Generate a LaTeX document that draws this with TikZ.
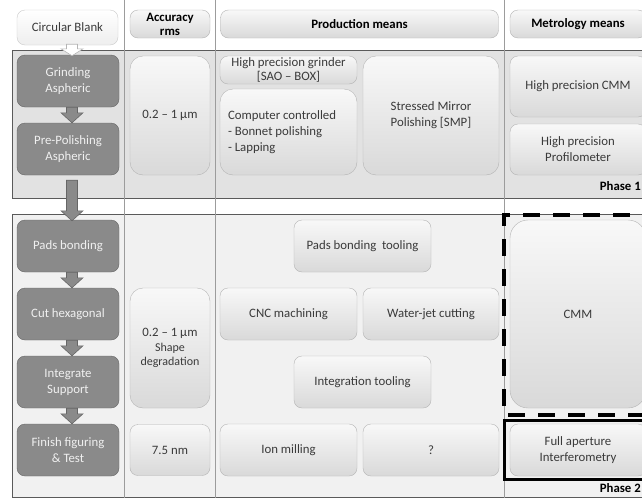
\documentclass[tikz,border=0pt]{standalone}
\usepackage{fontspec}
\setmainfont{Carlito}
\usetikzlibrary{calc}
\definecolor{boxborder}{HTML}{B4B4B4}
\definecolor{boxtop}{HTML}{F8F8F8}
\definecolor{boxbot}{HTML}{D9D9D9}
\definecolor{boxtext}{HTML}{3A3A3A}
\definecolor{darkfill}{HTML}{8A8A8A}
\definecolor{darkborder}{HTML}{666666}
\definecolor{darktext}{HTML}{F0F0F0}
\definecolor{phaseone}{HTML}{E2E2E2}
\definecolor{phasetwo}{HTML}{F1F1F1}
\definecolor{phaseborder}{HTML}{5A5A5A}
\definecolor{colline}{HTML}{9C9C9C}
\tikzset{
  x=1pt, y=-1pt,
  txt/.style={font=\fontsize{12.8}{16}\selectfont, align=center, inner sep=0pt},
  lightbox/.style={txt, rounded corners=8pt, draw=boxborder, top color=boxtop, bottom color=boxbot, text=boxtext},
  bigbox/.style={lightbox, rounded corners=13pt},
  headbox/.style={lightbox, text=black, font=\fontsize{12.8}{14}\selectfont\bfseries},
  blankbox/.style={lightbox, top color=white, bottom color=boxtop!96!black, draw=boxborder!70},
  darkbox/.style={txt, rounded corners=8pt, draw=darkborder, fill=darkfill, text=darktext, minimum width=102pt, minimum height=52pt},
  grayarrow/.style={draw=darkborder, fill=darkfill, line width=0.6pt, line join=miter},
  whitearrow/.style={draw=boxborder, fill=white, line width=0.6pt, line join=miter},
  phasebox/.style={draw=phaseborder, line width=0.8pt},
  colsep/.style={draw=colline, line width=0.6pt},
  phaselabel/.style={font=\fontsize{12.8}{14}\selectfont\bfseries, anchor=east, inner sep=0pt},
}
% block arrow from a start point straight down to an end point; #4 = head length
\newcommand{\blockarrowdraw}[4]{%
  \path[#1] let \p1=(#2), \p2=(#3) in
    (\x1-5.5pt,\y1) -- (\x1-5.5pt,\y2+#4) -- (\x1-11pt,\y2+#4) -- (\x1,\y2)
    -- (\x1+11pt,\y2+#4) -- (\x1+5.5pt,\y2+#4) -- (\x1+5.5pt,\y1) -- cycle;}
\begin{document}
\begin{tikzpicture}
\useasboundingbox (0,0) rectangle (642,498);
\fill[white] (0,0) rectangle (642,498);
% phases
\path[phasebox, fill=phaseone] (12,50) rectangle (660,198);
\path[phasebox, fill=phasetwo] (12,214) rectangle (660,497);
% column separators
\draw[colsep] (124.5,0) -- (124.5,498);
\draw[colsep] (215,0) -- (215,498);
\draw[colsep] (504.5,0) -- (504.5,498);
% headers
\node[blankbox, minimum width=101pt, minimum height=35pt] (blank) at (67.5,27.5) {Circular Blank};
\node[headbox, minimum width=80pt, minimum height=28pt] (hacc) at (170,24) {Accuracy\\rms};
\node[headbox, minimum width=278pt, minimum height=28pt] (hprod) at (359.5,24) {Production means};
\node[headbox, minimum width=136pt, minimum height=28pt] (hmet) at (578,24) {Metrology means};
% process steps
\node[darkbox] (grind) at (68,81) {Grinding\\Aspheric};
\node[darkbox] (prepol) at (68,149) {Pre-Polishing\\Aspheric};
\node[darkbox] (pads) at (68,246) {Pads bonding};
\node[darkbox] (cut) at (68,314) {Cut hexagonal};
\node[darkbox] (integ) at (68,382) {Integrate\\Support};
\node[darkbox] (finish) at (68,450) {Finish figuring\\\& Test};
% accuracy
\node[bigbox, minimum width=80pt, minimum height=119pt] (acc1) at (170,115.5) {0.2 -- 1 μm};
\node[bigbox, minimum width=80pt, minimum height=120pt, font=\fontsize{12}{14.5}\selectfont] (acc2) at (170,348) {{\fontsize{12.8}{14}\selectfont 0.2 -- 1 μm}\\Shape\\degradation};
\node[lightbox, minimum width=80pt, minimum height=51pt] (acc3) at (170,450) {7.5 nm};
% production means
\node[lightbox, minimum width=137pt, minimum height=28pt, font=\fontsize{12.8}{14}\selectfont] (grinder) at (288.5,70) {High precision grinder\\{[}SAO -- BOX{]}};
\node[bigbox, minimum width=137pt, minimum height=86pt, align=left] (cc) at (288.5,132) {\makebox[121pt][l]{Computer controlled}\\- Bonnet polishing\\- Lapping};
\node[bigbox, minimum width=136pt, minimum height=119pt] (smp) at (431,115.5) {Stressed Mirror\\Polishing {[}SMP{]}};
\node[lightbox, minimum width=137pt, minimum height=52pt] (padtool) at (362.5,246) {Pads bonding\ \ tooling};
\node[lightbox, minimum width=137pt, minimum height=52pt] (cnc) at (288.5,314) {CNC machining};
\node[lightbox, minimum width=136pt, minimum height=52pt] (wj) at (431,314) {Water-jet cutting};
\node[lightbox, minimum width=137pt, minimum height=52pt] (inttool) at (362.5,382) {Integration tooling};
\node[lightbox, minimum width=137pt, minimum height=52pt] (ion) at (288.5,450) {Ion milling};
\node[lightbox, minimum width=136pt, minimum height=52pt] (q) at (431,450) {?};
% metrology means
\node[lightbox, minimum width=136pt, minimum height=61pt] (hcmm) at (578,86.5) {High precision CMM};
\node[lightbox, minimum width=136pt, minimum height=51pt] (prof) at (578,149.5) {High precision\\Profilometer};
\node[bigbox, rounded corners=18pt, minimum width=136pt, minimum height=188pt] (cmm) at (578,314) {CMM};
\node[lightbox, minimum width=136pt, minimum height=52pt] (fai) at (578,450) {Full aperture\\Interferometry};
% highlight frames
\draw[line width=3.5pt, dash pattern=on 17pt off 13pt] (660,215) -- (504,215) -- (504,415) -- (660,415);
\draw[line width=3pt] (660,420) -- (504,420) -- (504,479) -- (660,479);
% phase labels
\node[phaselabel] (ph1) at (641,186) {Phase 1};
\node[phaselabel] (ph2) at (641,488) {Phase 2};
% arrows
\blockarrowdraw{whitearrow}{[xshift=4.5pt,yshift=1pt]blank.south}{[xshift=4.5pt,yshift=-1pt]grind.north}{7pt}
\blockarrowdraw{grayarrow}{[xshift=4pt]grind.south}{[xshift=4pt]prepol.north}{10pt}
\blockarrowdraw{grayarrow}{[xshift=4pt,yshift=-5pt]prepol.south}{[xshift=4pt,yshift=-1pt]pads.north}{10pt}
\blockarrowdraw{grayarrow}{[xshift=4pt]pads.south}{[xshift=4pt]cut.north}{10pt}
\blockarrowdraw{grayarrow}{[xshift=4pt]cut.south}{[xshift=4pt]integ.north}{10pt}
\blockarrowdraw{grayarrow}{[xshift=4pt]integ.south}{[xshift=4pt]finish.north}{10pt}
\end{tikzpicture}
\end{document}
